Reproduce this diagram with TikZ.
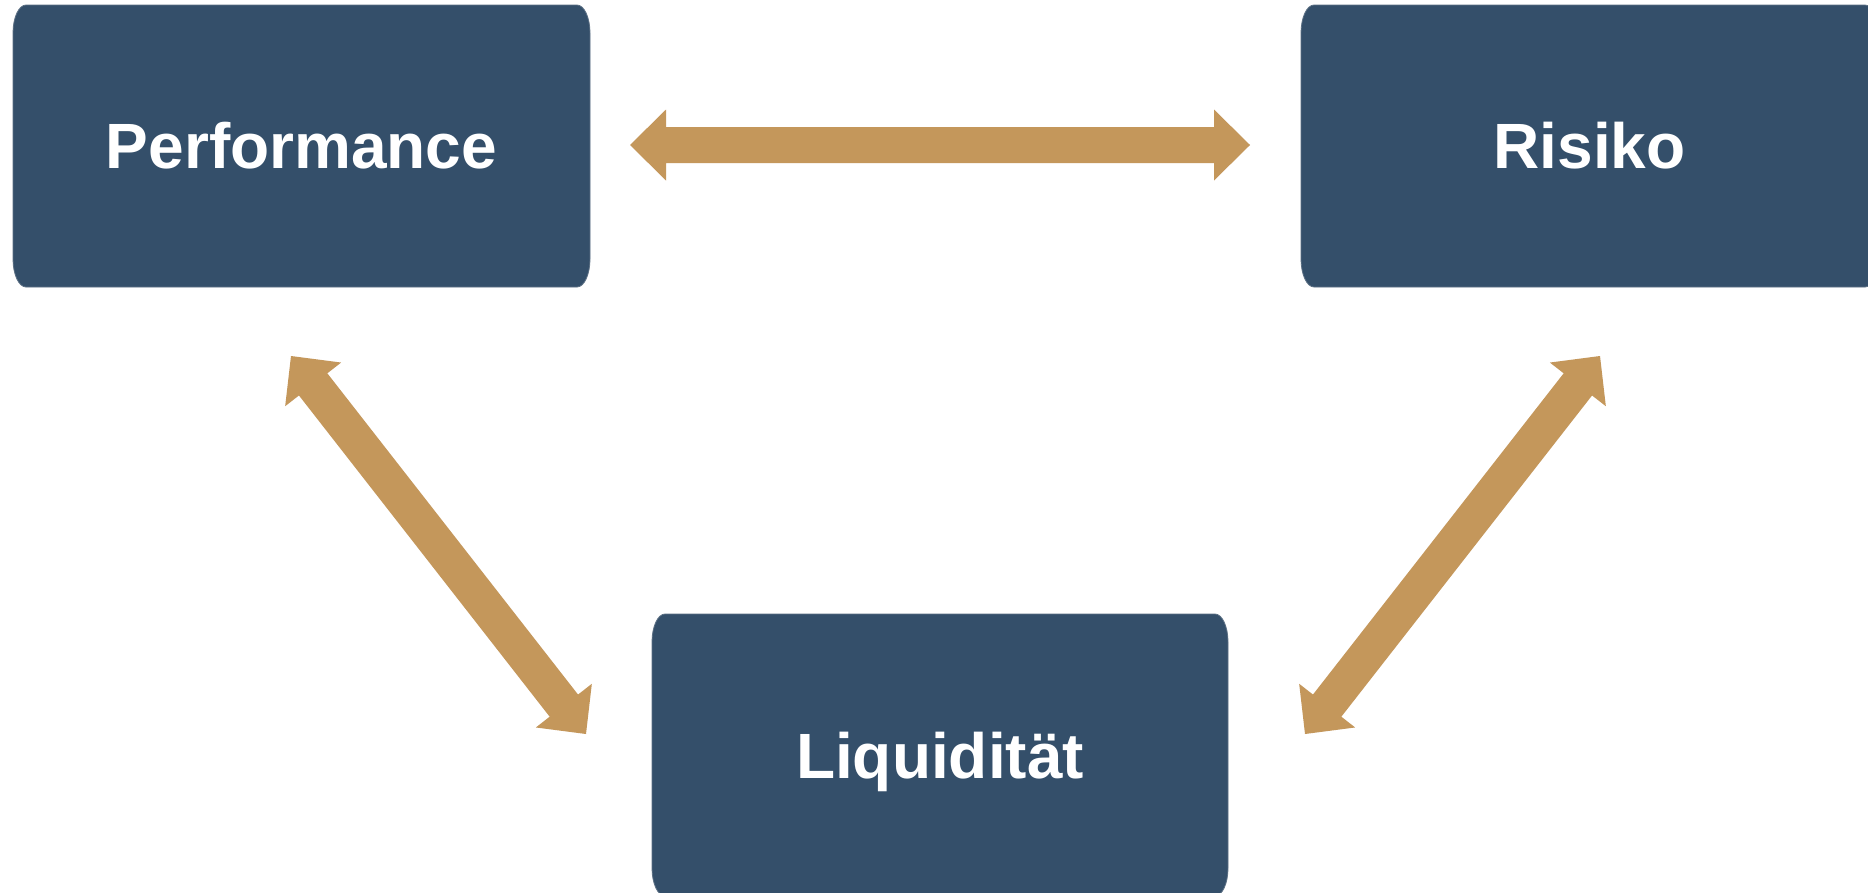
\documentclass[tikz,border=0pt]{standalone}
\usepackage{fontspec}
\setmainfont{Liberation Sans}
\usetikzlibrary{calc}
\definecolor{boxc}{RGB}{52,79,106}
\definecolor{boxedge}{RGB}{92,112,132}
\definecolor{arrowc}{RGB}{196,151,91}
\tikzset{
  boxfill/.style={fill=boxc, draw=boxedge, line width=0.8pt},
  boxcorner/.style={x radius=13pt, y radius=28pt},
  boxtext/.style={text=white, font=\bfseries\fontsize{64}{76}\selectfont, inner sep=0pt, anchor=base},
  arrowfill/.style={fill=arrowc}
}
\newcommand\roundbox[4]{%
  \filldraw[boxfill] ({#1},{#2+28}) arc[start angle=180,end angle=90,boxcorner]
    -- ({#3-13},{#2}) arc[start angle=90,end angle=0,boxcorner]
    -- ({#3},{#4-28}) arc[start angle=0,end angle=-90,boxcorner]
    -- ({#1+13},{#4}) arc[start angle=270,end angle=180,boxcorner] -- cycle;}
\newcommand\dblarrow[2]{%
  \coordinate (#1h) at ($(#1)!36pt!(#2)$);
  \coordinate (#2h) at ($(#2)!36pt!(#1)$);
  \fill[arrowfill] (#1) -- ($(#1h)!35.5pt!90:(#2)$) -- ($(#1h)!18pt!90:(#2)$)
    -- ($(#2h)!18pt!-90:(#1)$) -- ($(#2h)!35.5pt!-90:(#1)$) -- (#2)
    -- ($(#2h)!35.5pt!90:(#1)$) -- ($(#2h)!18pt!90:(#1)$)
    -- ($(#1h)!18pt!-90:(#2)$) -- ($(#1h)!35.5pt!-90:(#2)$) -- cycle;}
\begin{document}
\begin{tikzpicture}[x=1pt, y=-1pt]
  \fill[white] (0,0) rectangle (1868,892);
  \useasboundingbox (0,0) rectangle (1868,892);
  % boxes
  \roundbox{13}{5}{590}{287}
  \roundbox{1301}{5}{1878}{287}
  \roundbox{652}{614}{1228}{896}
  \node[boxtext] (perf) at (301.5,168) {Performance};
  \node[boxtext] (risk) at (1589.5,168) {Risiko};
  \node[boxtext] (liq) at (940,778) {Liquidität};
  % arrow end points
  \coordinate (ha) at (630,145);
  \coordinate (hb) at (1250,145);
  \coordinate (la) at (291,356);
  \coordinate (lb) at (586,734);
  \coordinate (ra) at (1600,356);
  \coordinate (rb) at (1305,734);
  \dblarrow{ha}{hb}
  \dblarrow{la}{lb}
  \dblarrow{ra}{rb}
\end{tikzpicture}
\end{document}
